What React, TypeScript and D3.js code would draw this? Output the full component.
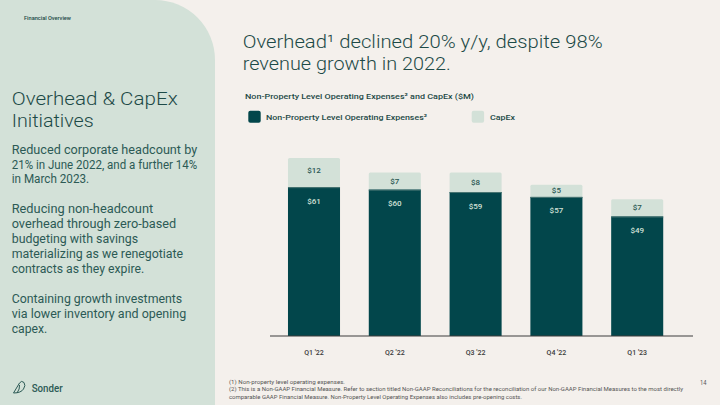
import React from "react";
import * as d3 from "d3";

const categories = ["Q1 '22", "Q2 '22", "Q3 '22", "Q4 '22", "Q1 '23"];
const opexValues = [61, 60, 59, 57, 49];
const capexValues = [12, 7, 8, 5, 7];
const seriesNames = ["Non-Property Level Operating Expenses\u00B2", "CapEx"];

const FONT = "Roboto, 'Open Sans', sans-serif";
const BG = "#f4f0ec";
const PANEL = "#d3e1d8";
const DARK = "#02464b";
const LIGHT = "#d3e1d8";
const TXT = "#1d4a47";

type TP = {
  x: number; y: number; w?: number; size: number; weight?: number; fill?: string;
  anchor?: "start" | "middle" | "end"; children: React.ReactNode; base?: string;
};
const T = ({ x, y, w, size, weight = 400, fill = TXT, anchor = "start", children, base }: TP) => (
  <text
    x={x}
    y={y}
    fontSize={size}
    fontWeight={weight}
    fill={fill}
    fontFamily={FONT}
    textAnchor={anchor}
    dominantBaseline={base as any}
    {...(w ? { textLength: w, lengthAdjust: "spacingAndGlyphs" } : {})}
  >
    {children}
  </text>
);

const bodyLines: [string, number, number][] = [
  ["Reduced corporate headcount by", 153.5, 185.5],
  ["21% in June 2022, and a further 14%", 168.5, 185.5],
  ["in March 2023.", 183, 77.5],
  ["Reducing non-headcount", 213, 141.5],
  ["overhead through zero-based", 228, 164.5],
  ["budgeting with savings", 242.5, 126.5],
  ["materializing as we renegotiate", 257.5, 171.5],
  ["contracts as they expire.", 272.5, 132.5],
  ["Containing growth investments", 302.5, 170.5],
  ["via lower inventory and opening", 317.5, 174.5],
  ["capex.", 332.5, 35.5],
];

export default function App() {
  const x = d3.scaleBand<string>().domain(categories).range([273.6, 677.6]).paddingInner(0.356).paddingOuter(0.178);
  const y = d3.scaleLinear().domain([0, 80]).range([336, 140.8]);
  const bw = x.bandwidth();

  return (
    <svg width={720} height={405} style={{ position: "absolute", left: 0, top: 0 }}>
      <rect x={0} y={0} width={720} height={405} fill={BG} />
      <path d="M0,0 L155,0 A60,60 0 0 1 215,60 L215,405 L0,405 Z" fill={PANEL} />

      <T x={24} y={20} w={47} size={5.5} weight={500}>Financial Overview</T>

      <T x={11.7} y={105} w={166} size={18} weight={300}>Overhead &amp; CapEx</T>
      <T x={11.7} y={126.5} w={82} size={18} weight={300}>Initiatives</T>
      {bodyLines.map(([s, yy, w]) => (
        <T key={s} x={11.7} y={yy} w={w} size={12} weight={400} fill="#2c5a55">{s}</T>
      ))}

      <T x={242.7} y={47.5} w={360} size={18.5} weight={300}>Overhead¹ declined 20% y/y, despite 98%</T>
      <T x={242.7} y={69.5} w={208} size={18.5} weight={300}>revenue growth in 2022.</T>

      <T x={245} y={98.5} w={229} size={8} weight={500}>Non-Property Level Operating Expenses² and CapEx ($M)</T>

      <rect x={248.3} y={110.7} width={12.4} height={12} rx={2} fill={DARK} />
      <T x={266} y={119.5} w={161} size={8} weight={500}>{seriesNames[0]}</T>
      <rect x={471.7} y={110.7} width={12.4} height={12} rx={2} fill={LIGHT} />
      <T x={490} y={119.5} w={25} size={8} weight={500}>{seriesNames[1]}</T>

      {categories.map((c, i) => {
        const x0 = x(c)!;
        const opTop = y(opexValues[i]);
        const totTop = y(opexValues[i] + capexValues[i]);
        const capY = Math.min(totTop + 13, (totTop + opTop) / 2);
        return (
          <g key={c}>
            <rect x={x0} y={totTop} width={bw} height={opTop - totTop + 3} rx={1.5} fill={LIGHT} />
            <rect x={x0} y={opTop} width={bw} height={y(0) - opTop} fill={DARK} />
            <line x1={x0} x2={x0 + bw} y1={opTop + 0.5} y2={opTop + 0.5} stroke="#4a7674" strokeWidth={1} />
            <T x={x0 + bw / 2} y={capY} size={8} weight={500} fill="#2a5753" anchor="middle" base="central">
              ${capexValues[i]}
            </T>
            <T x={x0 + bw / 2} y={opTop + 14} size={8} weight={500} fill="#d3e1d8" anchor="middle" base="central">
              ${opexValues[i]}
            </T>
            <T x={x0 + bw / 2} y={352.8} size={7} weight={500} fill="#3a3a3a" anchor="middle" base="central">
              {c}
            </T>
          </g>
        );
      })}
      <line x1={270} x2={693} y1={336} y2={336} stroke="#3d3d3d" strokeWidth={1} />

      <g fill="none" stroke="#2c5a55" strokeWidth={1}>
        <path d="M13.5,393 L19.5,383 Q21.5,380 24,382.5 Q26,385.5 23.5,389 Q21,393 13.5,393 Z" />
        <path d="M17,393 Q20,389 19.5,385" />
      </g>
      <T x={31.7} y={392} w={31} size={10} weight={500} fill="#2c5a55">Sonder</T>

      <T x={229} y={383.5} w={116} size={5.6} fill="#555">(1) Non-property level operating expenses.</T>
      <T x={229} y={391.3} w={454} size={5.6} fill="#555">
        (2) This is a Non-GAAP Financial Measure. Refer to section titled Non-GAAP Reconciliations for the reconciliation of our Non-GAAP Financial Measures to the most directly
      </T>
      <T x={229} y={399} w={293} size={5.6} fill="#555">
        comparable GAAP Financial Measure. Non-Property Level Operating Expenses also includes pre-opening costs.
      </T>
      <T x={700} y={385} w={6.5} size={6.5} fill="#555">14</T>
    </svg>
  );
}
